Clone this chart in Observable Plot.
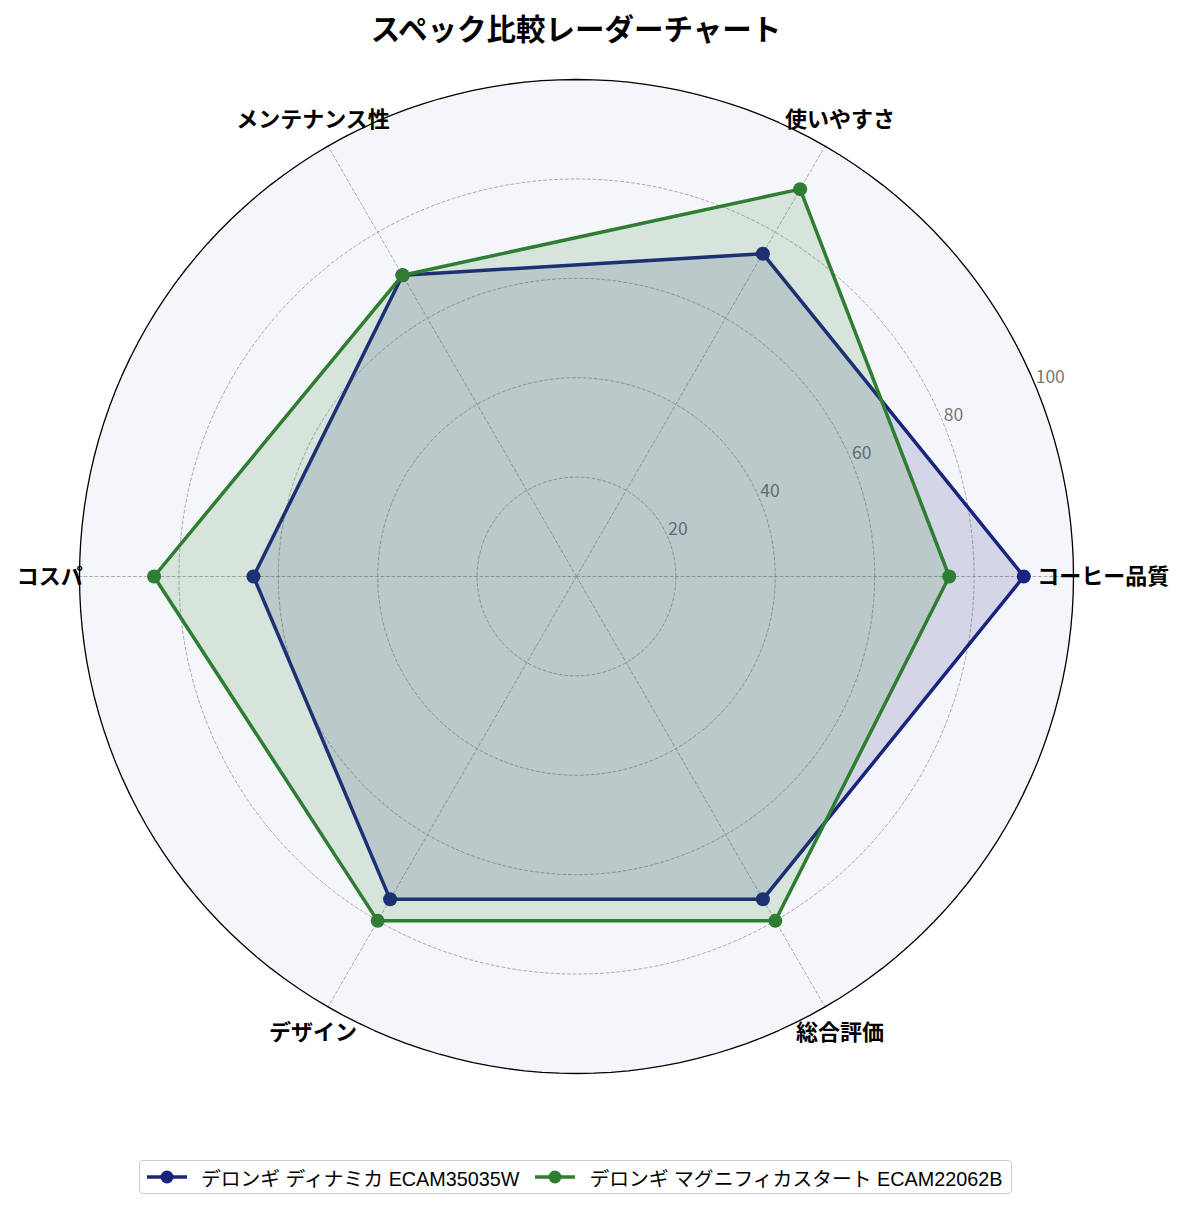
<!DOCTYPE html>
<html>
<head>
<meta charset="utf-8">
<script src="https://cdn.jsdelivr.net/npm/d3@7"></script>
<script src="https://cdn.jsdelivr.net/npm/@observablehq/plot@0.6"></script>
<style>
  html, body { margin: 0; padding: 0; background: #fff; }
  body { width: 1185px; height: 1211px; position: relative; font-family: "Noto Sans CJK JP", "Noto Sans", sans-serif; }
  #title { position: absolute; left: 0; width: 1152px; top: 6px; text-align: center; font-size: 29.5px; font-weight: bold; color: #000; }
  #chart { position: absolute; left: 0; top: 0; }
  #legend { position: absolute; left: 139px; top: 1160px; width: 873px; height: 34px; border: 1px solid #cccccc; border-radius: 4px; box-sizing: border-box; display: flex; align-items: center; padding-left: 7px; font-family: "Liberation Sans", "Noto Sans CJK JP", sans-serif; font-size: 19.8px; color: #000; background: #fff; white-space: nowrap; }
  .item { display: flex; align-items: center; margin-right: 16px; }
  .item svg { margin-right: 14px; }
</style>
</head>
<body>
<div id="title">スペック比較レーダーチャート</div>
<div id="chart"></div>
<div id="legend"></div>
<script>
const categories = ["コーヒー品質", "使いやすさ", "メンテナンス性", "コスパ", "デザイン", "総合評価"];
const seriesNames = ["デロンギ ディナミカ ECAM35035W", "デロンギ マグニフィカスタート ECAM22062B"];
const dinamicaValues = [90, 75, 70, 65, 75, 75];
const magnificaValues = [75, 90, 70, 85, 80, 80];
const seriesColors = ["#1a237e", "#2e7d32"];
const ringTicks = [20, 40, 60, 80, 100];
const maxValue = 100;

const angleOf = i => (i * 2 * Math.PI) / categories.length;
const toPoint = (r, a) => ({x: r * Math.cos(a), y: r * Math.sin(a)});

const series = [dinamicaValues, magnificaValues].map((vals, s) =>
  vals.map((v, i) => ({series: seriesNames[s], category: categories[i], value: v, ...toPoint(v, angleOf(i))}))
);

const circle = r => d3.range(0, 361, 2).map(deg => ({r, ...toPoint(r, deg * Math.PI / 180)}));
const spokes = categories.flatMap((c, i) => [{c, ...toPoint(0, angleOf(i))}, {c, ...toPoint(maxValue, angleOf(i))}]);
const tickLabels = ringTicks.map(t => ({t, ...toPoint(t, 22.5 * Math.PI / 180)}));
const catLabels = categories.map((c, i) => ({c, ...toPoint(106, angleOf(i))}));

const marks = [
  Plot.line(circle(maxValue), {x: "x", y: "y", fill: "#f5f6fa", stroke: "none", curve: "linear-closed"}),
  ...ringTicks.filter(t => t < maxValue).map(t =>
    Plot.line(circle(t), {x: "x", y: "y", stroke: "#999", strokeWidth: 0.8, strokeDasharray: "3,2.5"})),
  Plot.line(spokes, {x: "x", y: "y", z: "c", stroke: "#999", strokeWidth: 0.8, strokeDasharray: "3,2.5"}),
  Plot.line(circle(maxValue), {x: "x", y: "y", stroke: "#000", strokeWidth: 1.3, curve: "linear-closed"}),
  Plot.text(tickLabels, {x: "x", y: "y", text: d => String(d.t), textAnchor: "start", lineAnchor: "bottom", fill: "#777", fontSize: 17.5, dx: 0, dy: -3})
];
series.forEach((pts, s) => {
  marks.push(Plot.line(pts, {x: "x", y: "y", fill: seriesColors[s], fillOpacity: 0.15, stroke: "none", curve: "linear-closed"}));
  marks.push(Plot.line(pts, {x: "x", y: "y", stroke: seriesColors[s], strokeWidth: 3.5, curve: "linear-closed"}));
  marks.push(Plot.dot(pts, {x: "x", y: "y", r: 7, fill: seriesColors[s], stroke: "none"}));
});
marks.push(Plot.text(catLabels, {x: "x", y: "y", text: "c", fontSize: 22, fontWeight: "bold", fill: "#000", textAnchor: "middle"}));

const cx = 576, cy = 576, R = 497;
const plot = Plot.plot({
  width: 1185,
  height: 1150,
  margin: 0,
  style: {fontFamily: '"Noto Sans CJK JP", "Noto Sans", sans-serif', background: "transparent", overflow: "visible"},
  x: {domain: [-maxValue, maxValue], range: [cx - R, cx + R], axis: null},
  y: {domain: [-maxValue, maxValue], range: [cy + R, cy - R], axis: null},
  marks
});
document.getElementById("chart").appendChild(plot);

const legend = document.getElementById("legend");
seriesNames.forEach((name, s) => {
  const item = document.createElement("div");
  item.className = "item";
  item.innerHTML = `<svg width="40" height="16"><line x1="0" y1="8" x2="40" y2="8" stroke="${seriesColors[s]}" stroke-width="3.5"/><circle cx="20" cy="8" r="6.5" fill="${seriesColors[s]}"/></svg><span>${name}</span>`;
  legend.appendChild(item);
});
</script>
</body>
</html>
